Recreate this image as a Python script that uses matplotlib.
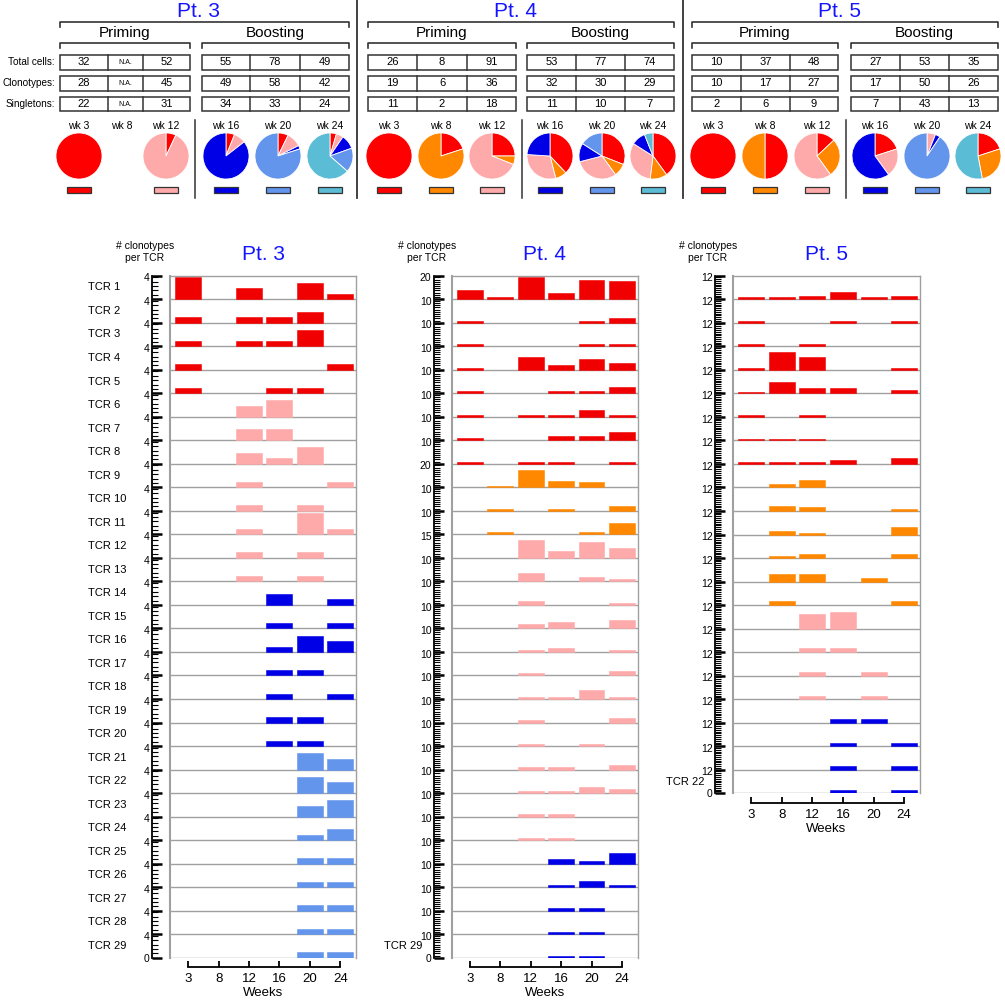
import numpy as np
import matplotlib
matplotlib.use('Agg')
import matplotlib.pyplot as plt
from matplotlib.patches import Rectangle

plt.rcParams['font.family'] = ['Liberation Sans', 'DejaVu Sans']

# ---- data ----
weeks = [3, 8, 12, 16, 20, 24]
pie_colors = ['#FF0000', '#FF8800', '#FFAAAA', '#0000E6', '#6495ED', '#5BBCD6']
bar_colors = ['#F00000', '#FF8800', '#FFAAAA', '#0000E6', '#6495ED', '#5BBCD6']
row_names = ['Total cells:', 'Clonotypes:', 'Singletons:']

# summary tables (None = N.A.)
pt3_total = [32, None, 52, 55, 78, 49]
pt3_clono = [28, None, 45, 49, 58, 42]
pt3_single = [22, None, 31, 34, 33, 24]
pt4_total = [26, 8, 91, 53, 77, 74]
pt4_clono = [19, 6, 36, 32, 30, 29]
pt4_single = [11, 2, 18, 11, 10, 7]
pt5_total = [10, 37, 48, 27, 53, 35]
pt5_clono = [10, 17, 27, 17, 50, 26]
pt5_single = [2, 6, 9, 7, 43, 13]

# pie fractions per week, slices ordered wk3..wk24 origin
pt3_pies = [[1, 0, 0, 0, 0, 0],
            None,
            [0.07, 0, 0.93, 0, 0, 0],
            [0.06, 0, 0.085, 0.855, 0, 0],
            [0.072, 0, 0.104, 0.024, 0.80, 0],
            [0.045, 0, 0.05, 0.10, 0.17, 0.635]]
pt4_pies = [[1, 0, 0, 0, 0, 0],
            [0.2, 0.8, 0, 0, 0, 0],
            [0.25, 0.06, 0.69, 0, 0, 0],
            [0.38, 0.08, 0.30, 0.24, 0, 0],
            [0.31, 0.09, 0.31, 0.13, 0.16, 0],
            [0.40, 0.12, 0.32, 0.10, 0, 0.06]]
pt5_pies = [[1, 0, 0, 0, 0, 0],
            [0.5, 0.5, 0, 0, 0, 0],
            [0.13, 0.27, 0.60, 0, 0, 0],
            [0.2, 0, 0.2, 0.6, 0, 0],
            [0, 0, 0.06, 0.035, 0.905, 0],
            [0.2, 0.27, 0, 0, 0, 0.53]]

# clonotypes per TCR, one row per TCR, columns = weeks
pt3_bars = [[4, 0, 2, 0, 3, 1], [1, 0, 1, 1, 2, 0], [1, 0, 1, 1, 3, 0], [1, 0, 0, 0, 0, 1],
            [1, 0, 0, 1, 1, 0], [0, 0, 2, 3, 0, 0], [0, 0, 2, 2, 0, 0], [0, 0, 2, 1, 3, 0],
            [0, 0, 1, 0, 0, 1], [0, 0, 1, 0, 1, 0], [0, 0, 1, 0, 4, 1], [0, 0, 1, 0, 1, 0],
            [0, 0, 1, 0, 1, 0], [0, 0, 0, 2, 0, 1], [0, 0, 0, 1, 0, 1], [0, 0, 0, 1, 3, 2],
            [0, 0, 0, 1, 1, 0], [0, 0, 0, 1, 0, 1], [0, 0, 0, 1, 1, 0], [0, 0, 0, 1, 1, 0],
            [0, 0, 0, 0, 3, 2], [0, 0, 0, 0, 3, 2], [0, 0, 0, 0, 2, 3], [0, 0, 0, 0, 1, 2],
            [0, 0, 0, 0, 1, 1], [0, 0, 0, 0, 1, 1], [0, 0, 0, 0, 1, 1], [0, 0, 0, 0, 1, 1],
            [0, 0, 0, 0, 1, 1]]
pt3_first = [0] * 5 + [2] * 8 + [3] * 7 + [4] * 9
pt3_max = [4] * 29

pt4_bars = [[8, 2, 20, 6, 18, 17], [1, 0, 0, 0, 1, 2], [1, 0, 0, 0, 1, 1], [1, 0, 6, 2, 5, 3],
            [1, 0, 0, 1, 1, 3], [1, 0, 1, 1, 3, 1], [1, 0, 0, 2, 2, 4], [1, 0, 1, 1, 0, 1],
            [0, 1, 16, 6, 5, 0], [0, 1, 0, 1, 0, 2], [0, 1, 0, 0, 1, 5], [0, 0, 12, 5, 11, 7],
            [0, 0, 4, 0, 2, 1], [0, 0, 2, 0, 0, 1], [0, 0, 2, 3, 0, 4], [0, 0, 1, 2, 0, 1],
            [0, 0, 1, 0, 0, 2], [0, 0, 1, 1, 4, 1], [0, 0, 1, 0, 0, 2], [0, 0, 1, 0, 1, 0],
            [0, 0, 1, 1, 0, 2], [0, 0, 1, 1, 3, 2], [0, 0, 1, 1, 0, 0], [0, 0, 1, 1, 0, 0],
            [0, 0, 0, 2, 1, 5], [0, 0, 0, 1, 3, 1], [0, 0, 0, 1, 1, 0], [0, 0, 0, 1, 1, 0],
            [0, 0, 0, 1, 1, 0]]
pt4_first = [0] * 8 + [1] * 3 + [2] * 13 + [3] * 5
pt4_max = [20, 10, 10, 10, 10, 10, 10, 10, 20, 10, 10, 15] + [10] * 17

pt5_bars = [[1, 1, 2, 4, 1, 2], [1, 0, 0, 1, 0, 1], [1, 0, 1, 0, 0, 0], [1, 10, 7, 0, 0, 1],
            [1, 6, 3, 3, 0, 2], [1, 0, 1, 0, 0, 0], [1, 1, 1, 0, 0, 0], [1, 1, 1, 2, 0, 3],
            [0, 2, 4, 0, 0, 0], [0, 3, 2, 0, 0, 1], [0, 2, 1, 0, 0, 4], [0, 1, 2, 0, 0, 2],
            [0, 4, 4, 0, 2, 0], [0, 2, 0, 0, 0, 2], [0, 0, 8, 9, 0, 0], [0, 0, 2, 2, 0, 0],
            [0, 0, 2, 0, 2, 0], [0, 0, 2, 0, 2, 0], [0, 0, 0, 2, 2, 0], [0, 0, 0, 2, 0, 2],
            [0, 0, 0, 2, 0, 2], [0, 0, 0, 2, 0, 2]]
pt5_first = [0] * 8 + [1] * 6 + [2] * 4 + [3] * 4
pt5_max = [12] * 22

W, H = 1005, 1000
fig = plt.figure(figsize=(W / 100, H / 100), dpi=100)
BLUE = '#1414FF'
DARK = '#333333'
GREY = '#A0A0A0'

# overlay in pixel coordinates for the summary part
ov = fig.add_axes([0, 0, 1, 1])
ov.set_xlim(0, W)
ov.set_ylim(H, 0)
ov.axis('off')


def bracket(x0, x1, y, drop=5):
    ov.plot([x0, x0, x1, x1], [y + drop, y, y, y + drop], color=DARK, lw=1.2)


def top_block(name, tables, pies, prim, boost, pie_x, sep_x, labels):
    bracket(prim[0], boost[-1], 21.7)
    ov.text((prim[0] + boost[-1]) / 2 - 6, 11.5, name, color=BLUE, fontsize=15,
            ha='center', va='center')
    for edges, word in [(prim, 'Priming'), (boost, 'Boosting')]:
        bracket(edges[0], edges[-1], 43.3)
        ov.text((edges[0] + edges[-1]) / 2, 33.5, word, fontsize=11, ha='center', va='center')
    for r, vals in enumerate(tables):
        y0 = [55, 76, 96.7][r]
        hgt = 14.7
        if labels:
            ov.text(55, y0 + hgt / 2, row_names[r], fontsize=7.2, ha='right', va='center')
        for g, edges in enumerate([prim, boost]):
            ov.add_patch(Rectangle((edges[0], y0), edges[-1] - edges[0], hgt,
                                   fc='white', ec=DARK, lw=1.1))
            for xe in edges[1:-1]:
                ov.plot([xe, xe], [y0, y0 + hgt], color=DARK, lw=1.1)
            for c in range(3):
                v = vals[g * 3 + c]
                xc = (edges[c] + edges[c + 1]) / 2
                if v is None:
                    ov.text(xc, y0 + hgt / 2, 'N.A.', fontsize=5, ha='center', va='center')
                else:
                    ov.text(xc, y0 + hgt / 2, str(v), fontsize=8, ha='center', va='center')
    ov.plot([sep_x, sep_x], [120, 198], color=DARK, lw=1.1)
    r = 23.5
    for i, fr in enumerate(pies):
        cx, cy = pie_x[i], 156
        ov.text(cx, 126, 'wk %d' % weeks[i], fontsize=7.5, ha='center', va='center')
        if fr is None:
            continue
        pa = fig.add_axes([(cx - r) / W, 1 - (cy + r) / H, 2 * r / W, 2 * r / H])
        keep = [k for k in range(6) if fr[k] > 0]
        pa.pie([fr[k] for k in keep], colors=[pie_colors[k] for k in keep],
               startangle=90, counterclock=False,
               wedgeprops=dict(edgecolor='white', linewidth=0.6))
        pa.set_xlim(-1.02, 1.02)
        pa.set_ylim(-1.02, 1.02)
        ov.add_patch(Rectangle((cx - 12, 187), 24, 6, fc=pie_colors[i], ec=DARK, lw=0.9))


top_block('Pt. 3', [pt3_total, pt3_clono, pt3_single], pt3_pies,
          [60, 108, 143, 190], [202, 250, 300, 349], [79, 122, 166, 226, 278, 330], 195, True)
top_block('Pt. 4', [pt4_total, pt4_clono, pt4_single], pt4_pies,
          [368, 417, 467, 516], [527, 576, 625, 674], [389, 441, 492, 550, 602, 653], 522, False)
top_block('Pt. 5', [pt5_total, pt5_clono, pt5_single], pt5_pies,
          [692, 741, 790, 838], [851, 900, 949, 998], [713, 765, 817, 875, 927, 978], 846, False)
for xs in [357, 683]:
    ov.plot([xs, xs], [0, 198], color=DARK, lw=1.3)

TOP = 0.93


def bar_panel(frame, rows, first, rmax, nminor, name, tcr):
    l, r, t, b = frame
    ax = fig.add_axes([l / W, 1 - b / H, (r - l) / W, (b - t) / H])
    n = len(rows)
    x = np.arange(6)
    minor_pos, minor_lab = [], []
    for i, vals in enumerate(rows):
        base = n - 1 - i
        vals = np.array(vals)
        on = vals > 0
        h = vals[on] / rmax[i] * TOP
        col = bar_colors[first[i]]
        ax.bar(x[on], h, bottom=base, width=0.85, color=col, edgecolor=col,
               linewidth=0.4, zorder=2)
        for k in range(1, nminor + 1):
            minor_pos.append(base + TOP * k / nminor)
            minor_lab.append(str(rmax[i]) if k == nminor else '')
        ax.axhline(base, color=GREY, lw=1, zorder=1)
    ax.set_xlim(-0.6, 5.52)
    ax.set_ylim(0, n)
    ax.axvline(-0.6, color=GREY, lw=1.5, clip_on=False)
    for s in ['top', 'right']:
        ax.spines[s].set_color(GREY)
        ax.spines[s].set_linewidth(1)
    ax.spines['left'].set_position(('outward', 13))
    ax.spines['left'].set_bounds(0, n)
    ax.spines['left'].set_linewidth(1.3)
    ax.spines['bottom'].set_position(('outward', 7))
    ax.spines['bottom'].set_bounds(0, 5)
    ax.spines['bottom'].set_linewidth(1.3)
    ax.set_yticks(range(n + 1), labels=['0'] + [''] * n)
    ax.set_yticks(minor_pos, labels=minor_lab, minor=True)
    ax.tick_params(axis='y', which='major', direction='in', length=7, width=1.8,
                   labelsize=7.5, pad=1.5)
    ax.tick_params(axis='y', which='minor', direction='in', length=4, width=0.8,
                   labelsize=7.5, pad=1.5)
    ax.set_xticks(x, labels=[str(w) for w in weeks])
    ax.tick_params(axis='x', direction='in', length=4, width=1.3, labelsize=9.5, pad=4)
    ax.set_xlabel('Weeks', fontsize=9.5, labelpad=1.5)
    fig.text((l + r) / 2 / W, 1 - 255 / H, name, color=BLUE, fontsize=15, ha='center', va='center')
    fig.text((l - 25) / W, 1 - 252 / H, '# clonotypes\nper TCR', fontsize=7.5,
             ha='center', va='center', linespacing=1.3)
    rh = (b - t) / n
    for i in tcr:
        yc = t + rh * (i + 0.5)
        if len(tcr) > 1:
            fig.text(88 / W, 1 - yc / H, 'TCR %d' % (i + 1), fontsize=8, ha='left', va='center')
        else:
            fig.text((l - 29) / W, 1 - yc / H, 'TCR %d' % (i + 1), fontsize=8,
                     ha='right', va='center')


bar_panel((170, 356, 275.7, 957.7), pt3_bars, pt3_first, pt3_max, 5, 'Pt. 3', range(29))
bar_panel((451.7, 637.7, 275.7, 957.7), pt4_bars, pt4_first, pt4_max, 10, 'Pt. 4', [28])
bar_panel((733, 920, 275.7, 793.3), pt5_bars, pt5_first, pt5_max, 12, 'Pt. 5', [21])

fig.savefig('out.png', dpi=100)
